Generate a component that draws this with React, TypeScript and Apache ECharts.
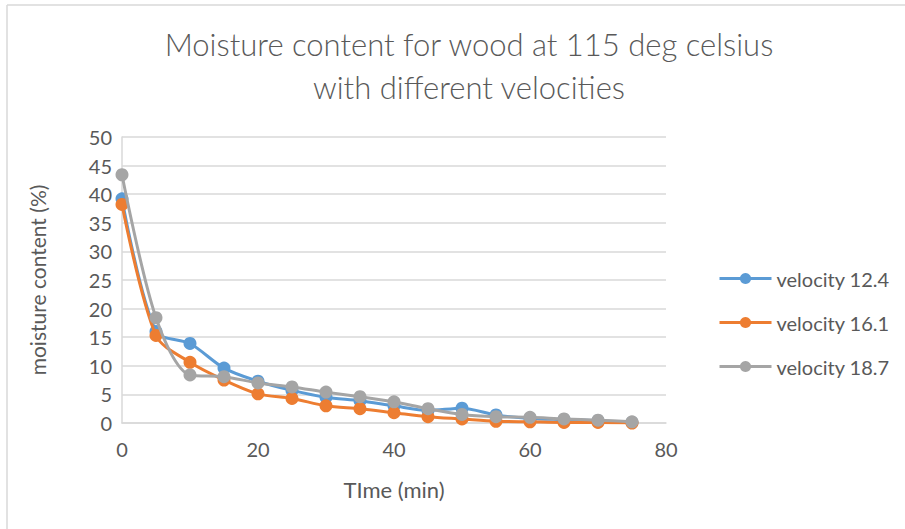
import React, { useEffect, useRef } from "react";
import * as echarts from "echarts";

const times = [0, 5, 10, 15, 20, 25, 30, 35, 40, 45, 50, 55, 60, 65, 70, 75];
const velocity124 = [39.2, 16.0, 13.9, 9.6, 7.3, 5.7, 4.5, 3.9, 3.0, 2.2, 2.6, 1.4, 0.8, 0.6, 0.4, 0.1];
const velocity161 = [38.2, 15.3, 10.6, 7.5, 5.1, 4.3, 3.0, 2.5, 1.8, 1.1, 0.7, 0.3, 0.2, 0.1, 0.1, 0.0];
const velocity187 = [43.4, 18.4, 8.4, 8.1, 7.0, 6.3, 5.4, 4.6, 3.7, 2.5, 1.5, 1.1, 1.0, 0.7, 0.5, 0.2];
const seriesNames = ["velocity 12.4", "velocity 16.1", "velocity 18.7"];
const seriesColors = ["#5B9BD5", "#ED7D31", "#A5A5A5"];

const FONT = "Lato, 'Liberation Sans', sans-serif";

export default function App() {
  const ref = useRef<HTMLDivElement>(null);
  useEffect(() => {
    if (!ref.current) return;
    const chart = echarts.init(ref.current, undefined, { renderer: "svg" });
    const all = [velocity124, velocity161, velocity187];
    chart.setOption({
      animation: false,
      backgroundColor: "#ffffff",
      title: {
        text: "Moisture content for wood at 115 deg celsius\nwith different velocities",
        left: 464,
        top: 17,
        textAlign: "center",
        textStyle: {
          fontFamily: FONT,
          fontSize: 31,
          fontWeight: 300,
          color: "#595959",
          lineHeight: 43,
        },
      },
      graphic: [
        { type: "line", shape: { x1: 7, y1: 5, x2: 905, y2: 5 }, style: { stroke: "#D9D9D9", lineWidth: 1.5 } },
        { type: "line", shape: { x1: 7, y1: 5, x2: 7, y2: 529 }, style: { stroke: "#D9D9D9", lineWidth: 1.5 } },
      ],
      legend: {
        orient: "vertical",
        left: 713,
        top: 262,
        itemWidth: 52,
        itemHeight: 14,
        itemGap: 21,
        data: seriesNames,
        lineStyle: { width: 3 },
        textStyle: { fontFamily: FONT, fontSize: 20, color: "#595959", lineHeight: 23 },
      },
      grid: { left: 122, right: 239, top: 137, bottom: 106 },
      xAxis: {
        type: "value",
        min: 0,
        max: 80,
        interval: 20,
        name: "TIme (min)",
        nameLocation: "middle",
        nameGap: 55,
        nameTextStyle: { fontFamily: FONT, fontSize: 22, color: "#595959" },
        axisLine: { show: true, lineStyle: { color: "#D9D9D9", width: 1.5 } },
        axisTick: { show: false },
        splitLine: { show: false },
        axisLabel: { fontFamily: FONT, fontSize: 20, color: "#595959", margin: 16 },
      },
      yAxis: {
        type: "value",
        min: 0,
        max: 50,
        interval: 5,
        name: "moisture content (%)",
        nameLocation: "middle",
        nameGap: 74,
        nameTextStyle: { fontFamily: FONT, fontSize: 21, color: "#595959" },
        axisLine: { show: true, lineStyle: { color: "#D9D9D9", width: 1.5 } },
        axisTick: { show: false },
        splitLine: { show: true, lineStyle: { color: "#D9D9D9", width: 1.5 } },
        axisLabel: { fontFamily: FONT, fontSize: 20, color: "#595959", margin: 10 },
      },
      series: all.map((vals, i) => ({
        name: seriesNames[i],
        type: "line",
        smooth: 0.3,
        data: times.map((t, j) => [t, vals[j]]),
        symbol: "circle",
        symbolSize: 13,
        showSymbol: true,
        lineStyle: { width: 3, color: seriesColors[i] },
        itemStyle: { color: seriesColors[i] },
        z: 2 + i,
      })),
    });
    return () => chart.dispose();
  }, []);
  return (
    <div style={{ position: "fixed", left: 0, top: 0, width: 905, height: 529, background: "#fff" }}>
      <div ref={ref} style={{ width: 905, height: 529 }} />
    </div>
  );
}
